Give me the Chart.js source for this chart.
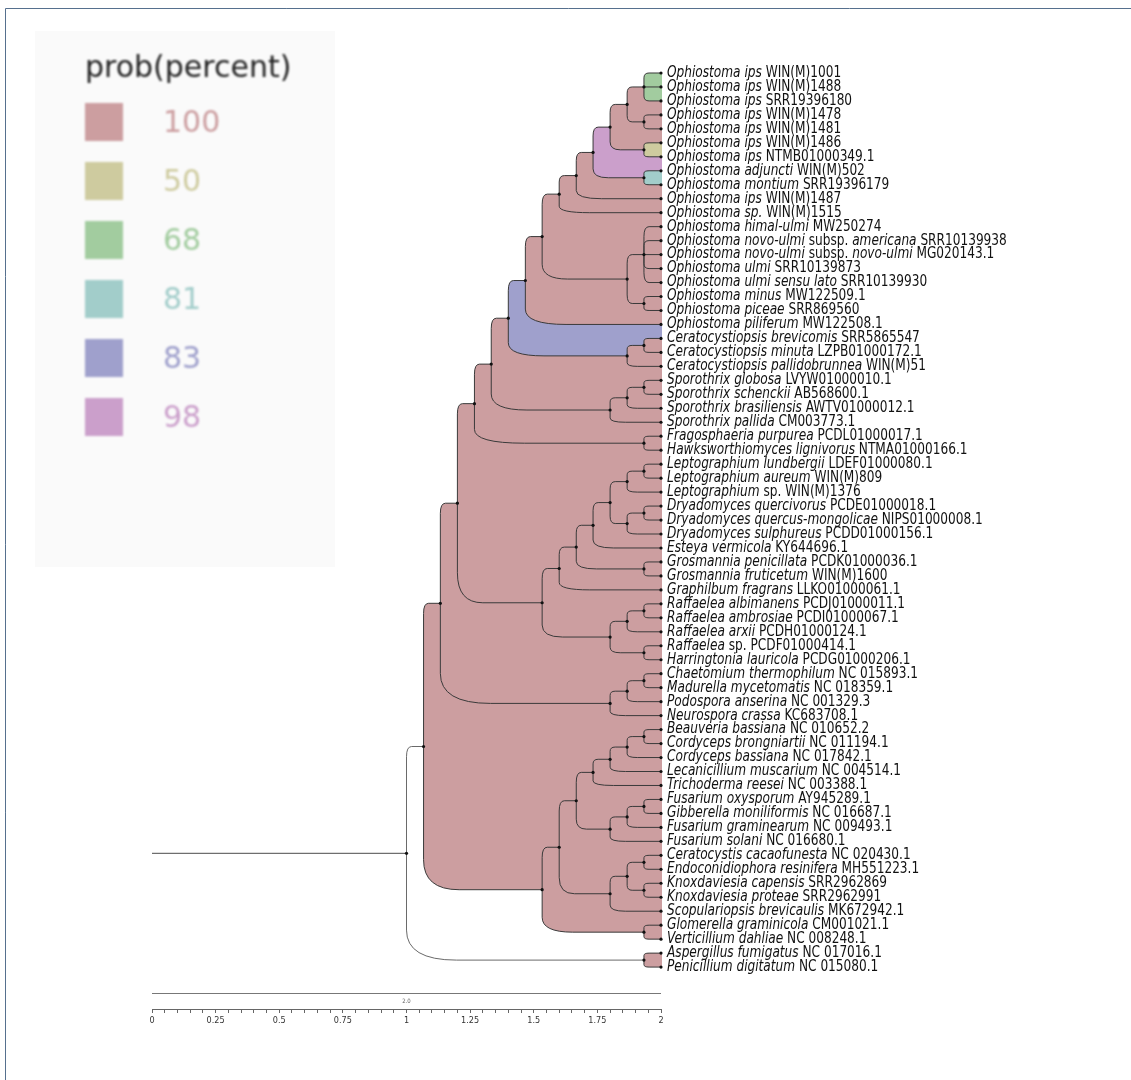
<!DOCTYPE html>
<html>
<head>
<meta charset="utf-8">
<script src="https://cdn.jsdelivr.net/npm/chart.js@4.4.1/dist/chart.umd.min.js"></script>
<style>
  html, body { margin: 0; padding: 0; background: #ffffff; }
  canvas { display: block; }
</style>
</head>
<body>
<canvas id="tree" width="1131" height="1080"></canvas>
<script>
// Leaf labels, top to bottom. Text between asterisks is set in italics.
const taxa = [
  "*Ophiostoma ips* WIN(M)1001",
  "*Ophiostoma ips* WIN(M)1488",
  "*Ophiostoma ips* SRR19396180",
  "*Ophiostoma ips* WIN(M)1478",
  "*Ophiostoma ips* WIN(M)1481",
  "*Ophiostoma ips* WIN(M)1486",
  "*Ophiostoma ips* NTMB01000349.1",
  "*Ophiostoma adjuncti* WIN(M)502",
  "*Ophiostoma montium* SRR19396179",
  "*Ophiostoma ips* WIN(M)1487",
  "*Ophiostoma sp.* WIN(M)1515",
  "*Ophiostoma himal-ulmi* MW250274",
  "*Ophiostoma novo-ulmi* subsp. *americana* SRR10139938",
  "*Ophiostoma novo-ulmi* subsp. *novo-ulmi* MG020143.1",
  "*Ophiostoma ulmi* SRR10139873",
  "*Ophiostoma ulmi sensu lato* SRR10139930",
  "*Ophiostoma minus* MW122509.1",
  "*Ophiostoma piceae* SRR869560",
  "*Ophiostoma piliferum* MW122508.1",
  "*Ceratocystiopsis brevicomis* SRR5865547",
  "*Ceratocystiopsis minuta* LZPB01000172.1",
  "*Ceratocystiopsis pallidobrunnea* WIN(M)51",
  "*Sporothrix globosa* LVYW01000010.1",
  "*Sporothrix schenckii* AB568600.1",
  "*Sporothrix brasiliensis* AWTV01000012.1",
  "*Sporothrix pallida* CM003773.1",
  "*Fragosphaeria purpurea* PCDL01000017.1",
  "*Hawksworthiomyces lignivorus* NTMA01000166.1",
  "*Leptographium lundbergii* LDEF01000080.1",
  "*Leptographium aureum* WIN(M)809",
  "*Leptographium* sp. WIN(M)1376",
  "*Dryadomyces quercivorus* PCDE01000018.1",
  "*Dryadomyces quercus-mongolicae* NIPS01000008.1",
  "*Dryadomyces sulphureus* PCDD01000156.1",
  "*Esteya vermicola* KY644696.1",
  "*Grosmannia penicillata* PCDK01000036.1",
  "*Grosmannia fruticetum* WIN(M)1600",
  "*Graphilbum fragrans* LLKO01000061.1",
  "*Raffaelea albimanens* PCDJ01000011.1",
  "*Raffaelea ambrosiae* PCDI01000067.1",
  "*Raffaelea arxii* PCDH01000124.1",
  "*Raffaelea* sp. PCDF01000414.1",
  "*Harringtonia lauricola* PCDG01000206.1",
  "*Chaetomium thermophilum* NC 015893.1",
  "*Madurella mycetomatis* NC 018359.1",
  "*Podospora anserina* NC 001329.3",
  "*Neurospora crassa* KC683708.1",
  "*Beauveria bassiana* NC 010652.2",
  "*Cordyceps brongniartii* NC 011194.1",
  "*Cordyceps bassiana* NC 017842.1",
  "*Lecanicillium muscarium* NC 004514.1",
  "*Trichoderma reesei* NC 003388.1",
  "*Fusarium oxysporum* AY945289.1",
  "*Gibberella moniliformis* NC 016687.1",
  "*Fusarium graminearum* NC 009493.1",
  "*Fusarium solani* NC 016680.1",
  "*Ceratocystis cacaofunesta* NC 020430.1",
  "*Endoconidiophora resinifera* MH551223.1",
  "*Knoxdaviesia capensis* SRR2962869",
  "*Knoxdaviesia proteae* SRR2962991",
  "*Scopulariopsis brevicaulis* MK672942.1",
  "*Glomerella graminicola* CM001021.1",
  "*Verticillium dahliae* NC 008248.1",
  "*Aspergillus fumigatus* NC 017016.1",
  "*Penicillium digitatum* NC 015080.1"
];

// Tip position on the distance axis.
const tipX = 2.0;

// Internal nodes: [name, children (leaf index or node name), support %, position on axis].
// Children are listed before their parents.
const clades = [
  ["ipsA",  [0, 1, 2],          68,  1.933],
  ["ipsB",  [3, 4],             100, 1.933],
  ["ipsC",  ["ipsA", "ipsB"],   100, 1.867],
  ["ipsD",  [5, 6],             50,  1.933],
  ["ipsE",  ["ipsC", "ipsD"],   100, 1.800],
  ["montA", [7, 8],             81,  1.933],
  ["ipsF",  ["ipsE", "montA"],  98,  1.733],
  ["ipsG",  ["ipsF", 9],        100, 1.667],
  ["ipsH",  ["ipsG", 10],       100, 1.600],
  ["ulmA",  [11, 12, 13, 14, 15], 100, 1.933],
  ["picA",  [16, 17],           100, 1.933],
  ["ulmB",  ["ulmA", "picA"],   100, 1.867],
  ["ophA",  ["ipsH", "ulmB"],   100, 1.533],
  ["ophB",  ["ophA", 18],       100, 1.467],
  ["cerA",  [19, 20],           100, 1.933],
  ["cerB",  ["cerA", 21],       100, 1.867],
  ["ophC",  ["ophB", "cerB"],   83,  1.400],
  ["spoA",  [22, 23],           100, 1.933],
  ["spoB",  ["spoA", 24],       100, 1.867],
  ["spoC",  ["spoB", 25],       100, 1.800],
  ["ophD",  ["ophC", "spoC"],   100, 1.333],
  ["fraA",  [26, 27],           100, 1.933],
  ["ophE",  ["ophD", "fraA"],   100, 1.267],
  ["lepA",  [28, 29],           100, 1.933],
  ["lepB",  ["lepA", 30],       100, 1.867],
  ["dryA",  [31, 32],           100, 1.933],
  ["dryB",  ["dryA", 33],       100, 1.867],
  ["lepC",  ["lepB", "dryB"],   100, 1.800],
  ["lepD",  ["lepC", 34],       100, 1.733],
  ["groA",  [35, 36],           100, 1.933],
  ["lepE",  ["lepD", "groA"],   100, 1.667],
  ["lepF",  ["lepE", 37],       100, 1.600],
  ["rafA",  [38, 39],           100, 1.933],
  ["rafB",  ["rafA", 40],       100, 1.867],
  ["rafC",  [41, 42],           100, 1.933],
  ["rafD",  ["rafB", "rafC"],   100, 1.800],
  ["lepG",  ["lepF", "rafD"],   100, 1.533],
  ["ophF",  ["ophE", "lepG"],   100, 1.200],
  ["chaA",  [43, 44],           100, 1.933],
  ["chaB",  ["chaA", 45],       100, 1.867],
  ["chaC",  ["chaB", 46],       100, 1.800],
  ["sorA",  ["ophF", "chaC"],   100, 1.133],
  ["hypA",  [47, 48],           100, 1.933],
  ["hypB",  ["hypA", 49],       100, 1.867],
  ["hypC",  ["hypB", 50],       100, 1.800],
  ["hypD",  ["hypC", 51],       100, 1.733],
  ["fusA",  [52, 53],           100, 1.933],
  ["fusB",  ["fusA", 54],       100, 1.867],
  ["fusC",  ["fusB", 55],       100, 1.800],
  ["hypE",  ["hypD", "fusC"],   100, 1.667],
  ["cerC",  [56, 57],           100, 1.933],
  ["knoA",  [58, 59],           100, 1.933],
  ["cerD",  ["cerC", "knoA"],   100, 1.867],
  ["cerE",  ["cerD", 60],       100, 1.800],
  ["hypF",  ["hypE", "cerE"],   100, 1.600],
  ["gloA",  [61, 62],           100, 1.933],
  ["hypG",  ["hypF", "gloA"],   100, 1.533],
  ["ingroup", ["sorA", "hypG"], 100, 1.067],
  ["aspA",  [63, 64],           100, 1.933],
  ["root",  ["ingroup", "aspA"], null, 1.000]
];

// Root stem starts here on the axis.
const rootStemStart = 0;

// Support legend.
const legendTitle = "prob(percent)";
const supportLevels = [100, 50, 68, 81, 83, 98];
const supportColors = ["#cc9ea0", "#cecb9f", "#a2cc9f", "#a2cdca", "#9fa0cc", "#cb9fcb"];

// Distance axis.
const axisLabels = [0, 0.25, 0.5, 0.75, 1, 1.25, 1.5, 1.75, 2];
const minorStep = 0.05;
const scaleBarLength = 2;
const scaleBarLabel = "2.0";

// ---- layout of the tree in data units (x = distance, y = leaf row) ----
const nodes = {};
taxa.forEach((t, i) => { nodes[i] = { x: tipX, y: i }; });
clades.forEach(([name, kids, support, x]) => {
  const first = nodes[kids[0]], last = nodes[kids[kids.length - 1]];
  nodes[name] = { x, y: (first.y + last.y) / 2, kids, support };
});

const pointData = Object.values(nodes).map(n => ({ x: n.x, y: n.y }));

const LABEL_FONT = '"DejaVu Sans Condensed", "DejaVu Sans", sans-serif';
const LABEL_SQUEEZE = 0.9;

function cornerRadii(dx, dy) {
  const rx = Math.min(dx * 0.3, 50);
  const ry = Math.min(Math.abs(dy) * 0.35, rx * 2, 30);
  return [rx, ry];
}

function elbowPath(ctx, xn, yn, xc, yc) {
  const dy = yc - yn;
  ctx.moveTo(xn, yn);
  if (Math.abs(dy) < 0.5) { ctx.lineTo(xc, yc); return; }
  const [rx, ry] = cornerRadii(xc - xn, dy);
  const s = Math.sign(dy);
  ctx.lineTo(xn, yc - s * ry);
  ctx.quadraticCurveTo(xn, yc, xn + rx, yc);
  ctx.lineTo(xc, yc);
}

const treePlugin = {
  id: 'treePlugin',
  beforeDraw(chart) {
    const ctx = chart.ctx;
    ctx.save();
    ctx.fillStyle = '#ffffff';
    ctx.fillRect(0, 0, chart.width, chart.height);
    ctx.restore();
  },
  beforeDatasetsDraw(chart) {
    const ctx = chart.ctx;
    const xs = chart.scales.x, ys = chart.scales.y;
    const px = v => xs.getPixelForValue(v);
    const py = v => ys.getPixelForValue(v);
    const xEnd = px(tipX) + 1;
    ctx.save();

    // clade shading, ancestors first so nested clades sit on top
    for (let i = clades.length - 1; i >= 0; i--) {
      const n = nodes[clades[i][0]];
      if (n.support == null) continue;
      const top = nodes[n.kids[0]], bot = nodes[n.kids[n.kids.length - 1]];
      const xn = px(n.x), yn = py(n.y);
      const xt = px(top.x), yt = py(top.y);
      const xb = px(bot.x), yb = py(bot.y);
      const [rxT, ryT] = cornerRadii(xt - xn, yt - yn);
      const [rxB, ryB] = cornerRadii(xb - xn, yb - yn);
      ctx.beginPath();
      ctx.moveTo(xEnd, yt);
      ctx.lineTo(xn + rxT, yt);
      ctx.quadraticCurveTo(xn, yt, xn, yt + ryT);
      ctx.lineTo(xn, yb - ryB);
      ctx.quadraticCurveTo(xn, yb, xn + rxB, yb);
      ctx.lineTo(xEnd, yb);
      ctx.closePath();
      ctx.fillStyle = supportColors[supportLevels.indexOf(n.support)];
      ctx.fill();
    }

    // branches
    ctx.lineWidth = 1;
    clades.forEach(([name]) => {
      const n = nodes[name];
      const xn = px(n.x), yn = py(n.y);
      ctx.strokeStyle = n.support == null ? '#6a6a6a' : '#3a3a3a';
      n.kids.forEach(k => {
        const c = nodes[k];
        ctx.beginPath();
        elbowPath(ctx, xn, yn, px(c.x), py(c.y));
        ctx.stroke();
      });
    });
    // root stem
    const r = nodes.root;
    ctx.strokeStyle = '#4a4a4a';
    ctx.beginPath();
    ctx.moveTo(px(rootStemStart), py(r.y));
    ctx.lineTo(px(r.x), py(r.y));
    ctx.stroke();

    // scale bar above the axis
    const barY = 993.5;
    ctx.strokeStyle = '#777777';
    ctx.beginPath();
    ctx.moveTo(px(0), barY);
    ctx.lineTo(px(scaleBarLength), barY);
    ctx.stroke();
    ctx.fillStyle = '#666666';
    ctx.font = '6px ' + LABEL_FONT;
    ctx.textAlign = 'center';
    ctx.textBaseline = 'middle';
    ctx.fillText(scaleBarLabel, px(scaleBarLength / 2), 1001);
    ctx.restore();
  },
  afterDatasetsDraw(chart) {
    const ctx = chart.ctx;
    const xs = chart.scales.x, ys = chart.scales.y;
    const x0 = xs.getPixelForValue(tipX) + 6;
    ctx.fillStyle = '#111111';
    taxa.forEach((label, i) => {
      const y = ys.getPixelForValue(i);
      ctx.save();
      ctx.translate(x0, y);
      ctx.scale(LABEL_SQUEEZE, 1);
      ctx.textBaseline = 'middle';
      ctx.textAlign = 'left';
      let x = 0;
      label.split('*').forEach((part, j) => {
        if (!part) return;
        ctx.font = (j % 2 ? 'italic ' : '') + '15px ' + LABEL_FONT;
        ctx.fillText(part, x, 0);
        x += ctx.measureText(part).width;
      });
      ctx.restore();
    });
  },
  afterDraw(chart) {
    const ctx = chart.ctx;
    ctx.save();
    // frame lines
    ctx.strokeStyle = '#56708e';
    ctx.lineWidth = 1;
    ctx.beginPath();
    ctx.moveTo(5.5, chart.height);
    ctx.lineTo(5.5, 8.5);
    ctx.lineTo(chart.width, 8.5);
    ctx.stroke();

    // support legend
    ctx.fillStyle = '#fafafa';
    ctx.fillRect(35, 31, 300, 536);
    ctx.filter = 'blur(0.8px)';
    ctx.fillStyle = '#222222';
    ctx.font = '30px "DejaVu Sans", sans-serif';
    ctx.textBaseline = 'middle';
    ctx.textAlign = 'left';
    ctx.fillText(legendTitle, 85, 69);
    supportLevels.forEach((lvl, i) => {
      const cy = 122 + i * 59;
      ctx.fillStyle = supportColors[i];
      ctx.fillRect(85, cy - 19, 38, 38);
      ctx.fillText(String(lvl), 163, cy + 2);
    });
    ctx.restore();
  }
};

new Chart(document.getElementById('tree'), {
  type: 'scatter',
  data: {
    datasets: [{
      data: pointData,
      pointRadius: 1.6,
      pointHoverRadius: 1.6,
      pointBackgroundColor: '#111111',
      pointBorderWidth: 0,
      showLine: false,
      clip: false
    }]
  },
  options: {
    responsive: false,
    animation: false,
    devicePixelRatio: 1,
    events: [],
    layout: { padding: { left: 152, right: 470, top: 66, bottom: 47 } },
    plugins: { legend: { display: false }, tooltip: { enabled: false } },
    scales: {
      x: {
        type: 'linear',
        min: 0,
        max: 2,
        position: 'bottom',
        afterFit(scale) { scale.height = 24; },
        border: { display: true, color: '#666666', width: 1 },
        grid: { display: true, drawOnChartArea: false, drawTicks: true, tickLength: 4, color: '#666666' },
        ticks: {
          stepSize: minorStep,
          autoSkip: false,
          maxRotation: 0,
          padding: 2,
          color: '#333333',
          font: { family: LABEL_FONT, size: 9 },
          callback(v) {
            const hit = axisLabels.find(t => Math.abs(t - v) < 1e-6);
            return hit === undefined ? '' : String(hit);
          }
        }
      },
      y: {
        type: 'linear',
        display: false,
        reverse: true,
        min: -0.5,
        max: 67
      }
    }
  },
  plugins: [treePlugin]
});
</script>
</body>
</html>
